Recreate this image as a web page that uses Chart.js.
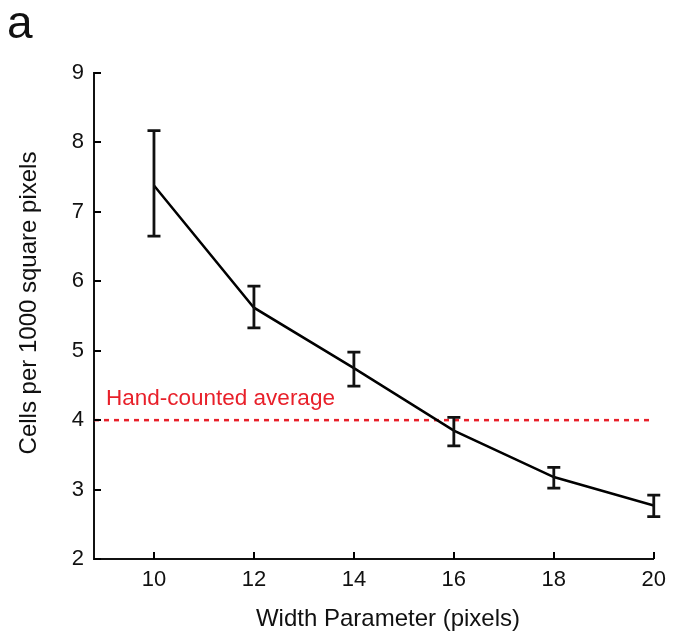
<!DOCTYPE html>
<html>
<head>
<meta charset="utf-8">
<script src="https://cdn.jsdelivr.net/npm/chart.js@4/dist/chart.umd.min.js"></script>
<style>
  html, body { margin: 0; padding: 0; background: #fff; }
  #wrap { width: 674px; height: 636px; }
</style>
</head>
<body>
<div id="wrap"><canvas id="chart" width="674" height="636"></canvas></div>
<script>
const widths = [10, 12, 14, 16, 18, 20];
const cellDensity = [7.38, 5.62, 4.75, 3.85, 3.18, 2.77];
const errLow = [6.65, 5.33, 4.49, 3.63, 3.02, 2.61];
const errHigh = [8.17, 5.93, 4.98, 4.04, 3.32, 2.92];
const handAverage = 4;
const xTicks = [10, 12, 14, 16, 18, 20];
const yTicks = [2, 3, 4, 5, 6, 7, 8, 9];
const xMin = 8.8;
const xMax = 20;

const FONT = "'Liberation Sans', Arial, Helvetica, sans-serif";

// inward ticks, error bars and the extra labels
const extrasPlugin = {
  id: "extras",
  afterDatasetsDraw(chart) {
    const ctx = chart.ctx;
    const xs = chart.scales.x;
    const ys = chart.scales.y;
    const area = chart.chartArea;

    ctx.save();
    ctx.strokeStyle = "#000";
    ctx.lineWidth = 2;
    xTicks.forEach((v) => {
      const px = Math.round(xs.getPixelForValue(v));
      ctx.beginPath();
      ctx.moveTo(px, area.bottom);
      ctx.lineTo(px, area.bottom - 7);
      ctx.stroke();
    });
    yTicks.forEach((v) => {
      const py = Math.round(ys.getPixelForValue(v));
      ctx.beginPath();
      ctx.moveTo(area.left, py);
      ctx.lineTo(area.left + 7, py);
      ctx.stroke();
    });

    // error bars
    ctx.strokeStyle = "#111";
    ctx.lineWidth = 2.8;
    widths.forEach((w, i) => {
      const px = xs.getPixelForValue(w);
      const top = ys.getPixelForValue(errHigh[i]);
      const bot = ys.getPixelForValue(errLow[i]);
      ctx.beginPath();
      ctx.moveTo(px, top);
      ctx.lineTo(px, bot);
      ctx.moveTo(px - 6.5, top);
      ctx.lineTo(px + 6.5, top);
      ctx.moveTo(px - 6.5, bot);
      ctx.lineTo(px + 6.5, bot);
      ctx.stroke();
    });

    // labels
    ctx.fillStyle = "#e8202a";
    ctx.font = "22.5px " + FONT;
    ctx.textAlign = "left";
    ctx.textBaseline = "middle";
    ctx.fillText("Hand-counted average", 106, ys.getPixelForValue(handAverage) - 21);

    ctx.fillStyle = "#111";
    ctx.font = "24px " + FONT;
    ctx.textAlign = "center";
    ctx.fillText("Width Parameter (pixels)", 388, 619);

    ctx.save();
    ctx.translate(29, 303);
    ctx.rotate(-Math.PI / 2);
    ctx.fillText("Cells per 1000 square pixels", 0, 0);
    ctx.restore();

    ctx.font = "46px " + FONT;
    ctx.textAlign = "left";
    ctx.textBaseline = "alphabetic";
    ctx.fillText("a", 7, 38);
    ctx.restore();
  },
};

new Chart(document.getElementById("chart"), {
  type: "line",
  data: {
    datasets: [
      {
        data: widths.map((w, i) => ({ x: w, y: cellDensity[i] })),
        borderColor: "#000",
        borderWidth: 2.5,
        pointRadius: 0,
        tension: 0,
      },
      {
        data: [
          { x: xMin, y: handAverage },
          { x: xMax, y: handAverage },
        ],
        borderColor: "#e8202a",
        borderWidth: 2.5,
        borderDash: [5, 5],
        pointRadius: 0,
      },
    ],
  },
  options: {
    responsive: false,
    animation: false,
    layout: { padding: { top: 73, right: 14, left: 0, bottom: 0 } },
    plugins: {
      legend: { display: false },
      tooltip: { enabled: false },
    },
    scales: {
      x: {
        type: "linear",
        min: xMin,
        max: xMax,
        afterBuildTicks: (scale) => {
          scale.ticks = xTicks.map((v) => ({ value: v }));
        },
        afterFit: (scale) => {
          scale.height = 77;
        },
        grid: { drawOnChartArea: false, drawTicks: false },
        border: { display: true, color: "#111", width: 2 },
        ticks: {
          color: "#111",
          padding: 8,
          font: { family: FONT, size: 22 },
        },
      },
      y: {
        type: "linear",
        min: 2,
        max: 9,
        afterBuildTicks: (scale) => {
          scale.ticks = yTicks.map((v) => ({ value: v }));
        },
        afterFit: (scale) => {
          scale.width = 94;
        },
        grid: { drawOnChartArea: false, drawTicks: false },
        border: { display: true, color: "#111", width: 2 },
        ticks: {
          color: "#111",
          padding: 10,
          font: { family: FONT, size: 22 },
        },
      },
    },
  },
  plugins: [extrasPlugin],
});
</script>
</body>
</html>
